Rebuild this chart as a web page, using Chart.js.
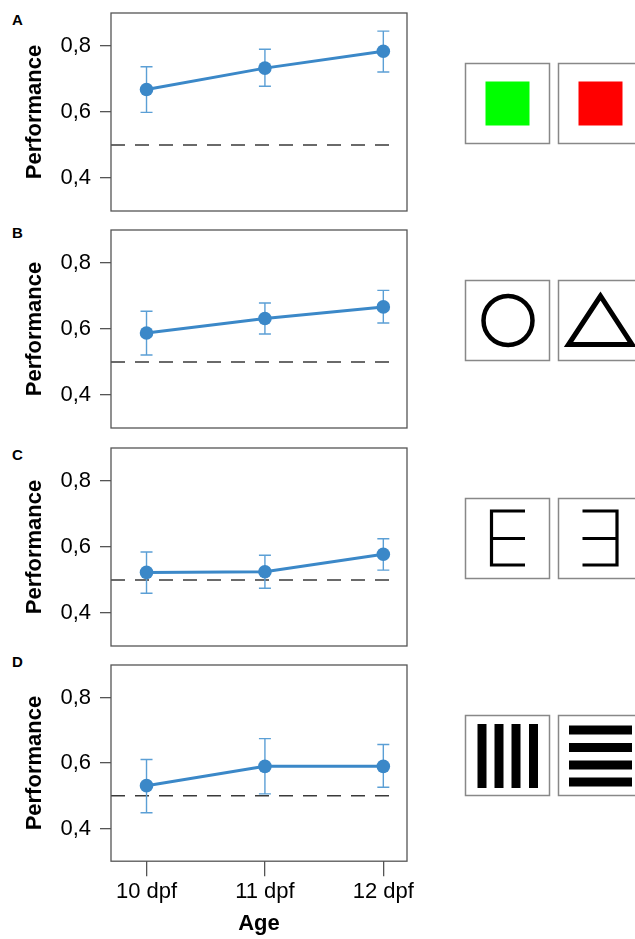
<!DOCTYPE html>
<html>
<head>
<meta charset="utf-8">
<script src="https://cdn.jsdelivr.net/npm/chart.js@4.4.1/dist/chart.umd.min.js"></script>
<style>
  body { margin: 0; background: #fff; width: 635px; height: 939px; overflow: hidden; position: relative; font-family: "Liberation Sans", Arial, sans-serif; }
  canvas { position: absolute; left: 0; }
  .letter { position: absolute; left: 12px; font-weight: bold; font-size: 15px; line-height: 15px; color: #000; }
  svg { position: absolute; left: 0; top: 0; }
</style>
</head>
<body>
<div class="letter" style="top:12px">A</div>
<div class="letter" style="top:225px">B</div>
<div class="letter" style="top:447px">C</div>
<div class="letter" style="top:654px">D</div>

<canvas id="chartA"></canvas>
<canvas id="chartB"></canvas>
<canvas id="chartC"></canvas>
<canvas id="chartD"></canvas>

<svg width="635" height="939">
  <g fill="#fff" stroke="#888" stroke-width="1.5">
    <rect x="465.5" y="63.5" width="84" height="80"/>
    <rect x="558.5" y="63.5" width="84" height="80"/>
    <rect x="465.5" y="280.5" width="84" height="80"/>
    <rect x="558.5" y="280.5" width="84" height="80"/>
    <rect x="465.5" y="498.5" width="84" height="80"/>
    <rect x="558.5" y="498.5" width="84" height="80"/>
    <rect x="465.5" y="715.5" width="84" height="80"/>
    <rect x="558.5" y="715.5" width="84" height="80"/>
  </g>
  <!-- A: colours -->
  <rect x="485.5" y="81.5" width="44" height="44" fill="#00ff00"/>
  <rect x="578.5" y="81.5" width="44" height="44" fill="#ff0000"/>
  <!-- B: shapes -->
  <circle cx="508" cy="320.5" r="24.5" fill="none" stroke="#000" stroke-width="4.5"/>
  <polygon points="600.5,296 568.5,344.5 632,344.5" fill="none" stroke="#000" stroke-width="5" stroke-linejoin="miter"/>
  <!-- C: E and mirrored E -->
  <g fill="none" stroke="#000" stroke-width="3.2">
    <polyline points="525,511 491.5,511 491.5,565 525,565"/>
    <line x1="491.5" y1="538.5" x2="525" y2="538.5"/>
    <polyline points="582.5,511 617,511 617,565 582.5,565"/>
    <line x1="582.5" y1="538.5" x2="617" y2="538.5"/>
  </g>
  <!-- D: gratings -->
  <g fill="#000">
    <rect x="477.5" y="724" width="9" height="64"/>
    <rect x="494.5" y="724" width="9" height="64"/>
    <rect x="511.5" y="724" width="9" height="64"/>
    <rect x="529" y="724" width="9" height="64"/>
    <rect x="569" y="725.5" width="63" height="9"/>
    <rect x="569" y="743" width="63" height="9"/>
    <rect x="569" y="760.5" width="63" height="9"/>
    <rect x="569" y="777.5" width="63" height="9"/>
  </g>
</svg>

<script>
// ages (dpf) and tick labels
const ages = [10, 11, 12];
const ageLabels = ["10 dpf", "11 dpf", "12 dpf"];
const yTicks = [0.4, 0.6, 0.8];
const chance = 0.5;

// performance per panel, with error bar ends
const perfA = [0.668, 0.733, 0.784];
const upperA = [0.737, 0.790, 0.845];
const lowerA = [0.599, 0.678, 0.721];

const perfB = [0.588, 0.632, 0.667];
const upperB = [0.654, 0.679, 0.717];
const lowerB = [0.521, 0.585, 0.618];

const perfC = [0.523, 0.525, 0.578];
const upperC = [0.585, 0.575, 0.625];
const lowerC = [0.460, 0.475, 0.530];

const perfD = [0.531, 0.590, 0.590];
const upperD = [0.611, 0.675, 0.657];
const lowerD = [0.448, 0.506, 0.526];

const blue = "#3b88c8";
const barBlue = "#5b9fd5";
const axisGrey = "#555";
const font = "'Liberation Sans', Arial, sans-serif";

// box, chance line and error bars
const panelPlugin = {
  id: "panelPlugin",
  beforeDatasetsDraw(chart) {
    const { ctx, chartArea: a, scales } = chart;
    const y = scales.y.getPixelForValue(chance);
    ctx.save();
    ctx.strokeStyle = "#3a3a3a";
    ctx.lineWidth = 1.4;
    ctx.setLineDash([14, 10]);
    ctx.beginPath();
    ctx.moveTo(a.left, y);
    ctx.lineTo(a.right - 9, y);
    ctx.stroke();
    ctx.setLineDash([]);

    const eb = chart.options.plugins.panelPlugin;
    ctx.strokeStyle = barBlue;
    ctx.lineWidth = 1.4;
    ages.forEach((age, i) => {
      const x = scales.x.getPixelForValue(age);
      const yt = scales.y.getPixelForValue(eb.upper[i]);
      const yb = scales.y.getPixelForValue(eb.lower[i]);
      ctx.beginPath();
      ctx.moveTo(x, yt); ctx.lineTo(x, yb);
      ctx.moveTo(x - 6, yt); ctx.lineTo(x + 6, yt);
      ctx.moveTo(x - 6, yb); ctx.lineTo(x + 6, yb);
      ctx.stroke();
    });
    ctx.restore();
  },
  afterDraw(chart) {
    const { ctx, chartArea: a } = chart;
    ctx.save();
    ctx.strokeStyle = axisGrey;
    ctx.lineWidth = 1.3;
    ctx.strokeRect(a.left, a.top, a.right - a.left, a.bottom - a.top);
    ctx.restore();
  }
};

const makePanel = (id, top, values, upper, lower, showX) => {
  const canvas = document.getElementById(id);
  const padTop = 24;
  const height = showX ? padTop + 198 + 74 : padTop + 198 + 24;
  canvas.style.top = (top - padTop) + "px";
  canvas.width = 430;
  canvas.height = height;
  canvas.style.width = "430px";
  canvas.style.height = height + "px";

  return new Chart(canvas, {
    type: "scatter",
    data: {
      datasets: [{
        data: ages.map((a, i) => ({ x: a, y: values[i] })),
        showLine: true,
        borderColor: blue,
        backgroundColor: blue,
        borderWidth: 3,
        pointRadius: 6.8,
        pointBorderWidth: 0,
      }],
    },
    options: {
      responsive: false,
      animation: false,
      layout: { padding: { left: 0, right: 23, top: padTop, bottom: showX ? 0 : 24 } },
      plugins: {
        legend: { display: false },
        tooltip: { enabled: false },
        panelPlugin: { upper, lower },
      },
      scales: {
        x: {
          type: "linear",
          min: 9.7,
          max: 12.2,
          display: showX,
          afterBuildTicks: (scale) => { scale.ticks = ages.map((v) => ({ value: v })); },
          ticks: {
            color: "#000",
            font: { family: font, size: 22 },
            padding: 3,
            callback: (v) => ageLabels[ages.indexOf(v)],
          },
          grid: { drawOnChartArea: false, drawTicks: true, tickLength: 15, color: axisGrey, lineWidth: 1.3 },
          border: { display: false },
          title: {
            display: showX,
            text: "Age",
            color: "#000",
            font: { family: font, size: 22, weight: "bold" },
            padding: { top: 2, bottom: 0 },
          },
        },
        y: {
          min: 0.3,
          max: 0.9,
          afterBuildTicks: (scale) => { scale.ticks = yTicks.map((v) => ({ value: v })); },
          afterFit: (scale) => { scale.width = 111; },
          ticks: {
            color: "#000",
            font: { family: font, size: 22 },
            padding: 9,
            callback: (v) => v.toFixed(1).replace(".", ","),
          },
          grid: { drawOnChartArea: false, drawTicks: true, tickLength: 11, color: axisGrey, lineWidth: 1.3 },
          border: { display: false },
          title: {
            display: true,
            text: "Performance",
            color: "#000",
            font: { family: font, size: 22, weight: "bold" },
            padding: { top: 22, bottom: 0 },
          },
        },
      },
    },
    plugins: [panelPlugin],
  });
};

makePanel("chartA", 13, perfA, upperA, lowerA, false);
makePanel("chartB", 230, perfB, upperB, lowerB, false);
makePanel("chartC", 448, perfC, upperC, lowerC, false);
makePanel("chartD", 665, perfD, upperD, lowerD, true);
</script>
</body>
</html>
